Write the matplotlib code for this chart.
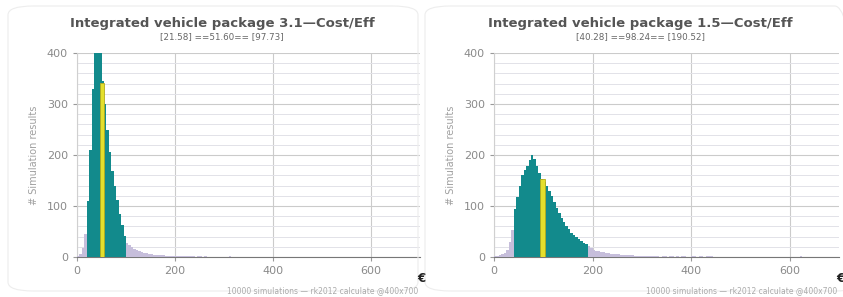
import matplotlib.pyplot as plt
from matplotlib.patches import FancyBboxPatch
from matplotlib.ticker import MultipleLocator
import numpy as np

BIN_WIDTH = 5

# --- package 3.1: counts per 5-unit bin starting at 0
left_counts = [2, 6, 18, 45, 110, 210, 330, 430, 440, 410,
               345, 300, 250, 205, 168, 140, 112, 85, 62, 42,
               28, 23, 20, 16, 13, 11, 9, 8, 7, 6,
               5, 4, 4, 3, 3, 3, 2, 2, 2, 2,
               1, 2, 1, 2, 1, 1, 2, 1, 0, 1,
               1, 0, 1, 0, 0, 0, 0, 0, 0, 0,
               0, 0, 1]
left_lo, left_median, left_hi = 21.58, 51.60, 97.73
left_median_count = 342

# --- package 1.5
right_counts = [1, 2, 3, 5, 8, 14, 30, 52, 95, 118,
                140, 160, 170, 178, 190, 200, 192, 178, 165, 152,
                148, 140, 130, 120, 108, 96, 86, 76, 68, 60,
                54, 48, 44, 40, 35, 31, 28, 25, 22, 18,
                14, 12, 11, 10, 9, 8, 7, 6, 6, 5,
                5, 4, 4, 4, 3, 3, 3, 2, 2, 2,
                2, 1, 2, 1, 1, 1, 1, 0, 1, 1,
                0, 1, 1, 0, 1, 0, 1, 1, 0, 0,
                1, 1, 0, 1, 1, 0, 1, 1, 1]
right_outlier_x = [620]
right_outlier_count = [1]
right_lo, right_median, right_hi = 40.28, 98.24, 190.52
right_median_count = 152

panels = [
    ("Integrated vehicle package 3.1\u2014Cost/Eff", left_counts, [], [],
     left_lo, left_median, left_hi, left_median_count),
    ("Integrated vehicle package 1.5\u2014Cost/Eff", right_counts,
     right_outlier_x, right_outlier_count,
     right_lo, right_median, right_hi, right_median_count),
]

TEAL = "#128a8c"
LAVENDER = "#c6bedb"
YELLOW = "#e4df2c"
GREY_TXT = "#8a8a8a"

W, H = 843, 297
fig = plt.figure(figsize=(W / 100, H / 100), dpi=100)
fig.patch.set_facecolor("white")

# faint panel frames (pixel coords -> figure fraction)
for x0, x1 in [(8, 418), (425, 860)]:
    box = FancyBboxPatch((x0 / W, 6 / H), (x1 - x0) / W, (H - 12) / H,
                         boxstyle="round,pad=0,rounding_size=0.03",
                         transform=fig.transFigure, facecolor="none",
                         edgecolor="#ededed", linewidth=0.8)
    fig.patches.append(box)

axes_px = [(77, 420), (494, 839)]
title_x = [222, 640]
for (title, counts, ox, oc, lo, med, hi, med_count), (ax0, ax1), tx in zip(panels, axes_px, title_x):
    ax = fig.add_axes([ax0 / W, (H - 257) / H, (ax1 - ax0) / W, 204 / H])
    counts = np.array(counts)
    edges = np.arange(len(counts)) * BIN_WIDTH
    centers = edges + BIN_WIDTH / 2
    colors = [TEAL if lo <= c <= hi else LAVENDER for c in centers]
    ax.bar(edges, counts, width=BIN_WIDTH, align="edge", color=colors,
           linewidth=0, zorder=3)
    if ox:
        ax.bar(ox, oc, width=BIN_WIDTH, align="edge", color=LAVENDER,
               linewidth=0, zorder=3)
    ax.bar([med], [med_count], width=9, color=YELLOW, edgecolor="#b5ac1c",
           linewidth=0.6, zorder=4)

    ax.set_xlim(0, 700)
    ax.set_ylim(0, 400)
    ax.xaxis.set_major_locator(MultipleLocator(200))
    ax.yaxis.set_major_locator(MultipleLocator(100))
    ax.yaxis.set_minor_locator(MultipleLocator(20))
    ax.grid(which="major", color="#cbcbcb", linewidth=0.8, zorder=0)
    ax.grid(which="minor", axis="y", color="#e2e2e8", linewidth=0.7, zorder=0)
    ax.set_axisbelow(True)
    for s in ("top", "right"):
        ax.spines[s].set_visible(False)
    ax.spines["left"].set_color("#d0d0d0")
    ax.spines["bottom"].set_color("#777777")
    ax.tick_params(which="major", colors="#999999", labelcolor=GREY_TXT,
                   labelsize=8, length=3)
    ax.tick_params(which="minor", length=0)
    ax.set_ylabel("# Simulation results", fontsize=7, color="#a0a0a0", labelpad=6)

    fig.text(tx / W, 1 - 23 / H, title, fontsize=9.5, fontweight="bold",
             color="#555555", ha="center", va="center")
    fig.text(tx / W, 1 - 37 / H, f"[{lo:.2f}] =={med:.2f}== [{hi:.2f}]",
             fontsize=6.3, color="#666666", ha="center", va="center")
    fig.text((ax1 - 3) / W, 1 - 279 / H, "\u20ac", fontsize=8.5,
             fontweight="bold", color="#222222", ha="left", va="center")
    fig.text((ax1 - 2) / W, 1 - 291 / H,
             "10000 simulations \u2014 rk2012 calculate @400x700",
             fontsize=5.5, color="#aaaaaa", ha="right", va="center")

fig.savefig("out.png", dpi=100)
